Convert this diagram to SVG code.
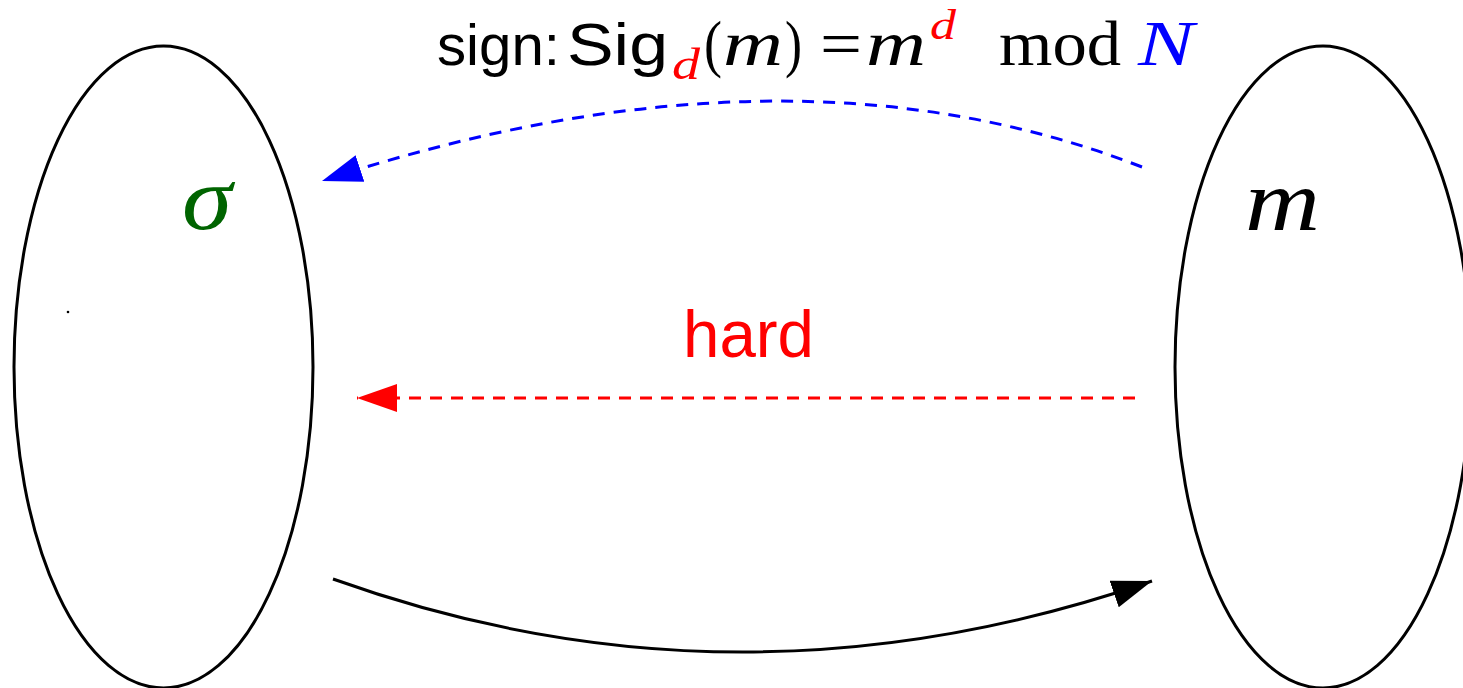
<svg xmlns="http://www.w3.org/2000/svg" width="1463" height="688" viewBox="0 0 1463 688">
<style>
.node{fill:none;stroke:#000;stroke-width:3}
.sans{font-family:"Liberation Sans",Arial,sans-serif}
.ser{font-family:"Liberation Serif","Times New Roman",serif}
.it{font-style:italic}
.conn{fill:none;stroke-width:3}
</style>
<defs>
<marker id="ab" markerUnits="userSpaceOnUse" markerWidth="42" markerHeight="30" refX="40" refY="14" orient="auto"><path d="M0,0 L40,14 L0,28 Z" fill="#0000ff"/></marker>
<marker id="ar" markerUnits="userSpaceOnUse" markerWidth="42" markerHeight="30" refX="40" refY="14" orient="auto"><path d="M0,0 L40,14 L0,28 Z" fill="#ff0000"/></marker>
<marker id="ak" markerUnits="userSpaceOnUse" markerWidth="42" markerHeight="30" refX="40" refY="14" orient="auto"><path d="M0,0 L40,14 L0,28 Z" fill="#000"/></marker>
</defs>
<rect width="1463" height="688" fill="#fff"/>
<g id="sigma-set">
<ellipse class="node" cx="163.5" cy="367" rx="149.5" ry="321"/>
<text class="ser it" x="182" y="229" font-size="92" fill="#006400" textLength="50" lengthAdjust="spacingAndGlyphs">σ</text>
<circle cx="68" cy="312" r="1.3" fill="#000"/>
</g>
<g id="m-set">
<ellipse class="node" cx="1323" cy="367" rx="148" ry="321"/>
<text class="ser it" x="1245" y="230" font-size="86" fill="#000" textLength="75" lengthAdjust="spacingAndGlyphs">m</text>
</g>
<g id="connectors">
<path class="conn" stroke="#0000ff" stroke-dasharray="12 9" d="M1142,167 Q785,28.5 322,181" marker-end="url(#ab)"/>
<path class="conn" stroke="#ff0000" stroke-dasharray="12 9" d="M1135,398 L357,398" marker-end="url(#ar)"/>
<path class="conn" stroke="#000" d="M333,579 Q737.5,724 1152,581" marker-end="url(#ak)"/>
</g>
<g id="labels">
<text class="sans" x="683" y="357" font-size="66" fill="#ff0000" textLength="131" lengthAdjust="spacingAndGlyphs">hard</text>
<text class="sans" x="437" y="65" font-size="58" fill="#000" textLength="123" lengthAdjust="spacingAndGlyphs">sign:</text>
<text class="sans" x="567" y="65" font-size="60" fill="#000" textLength="101" lengthAdjust="spacingAndGlyphs">Sig</text>
<text class="ser it" x="672" y="79" font-size="44" fill="#ff0000" textLength="28" lengthAdjust="spacingAndGlyphs">d</text>
<text class="ser" x="704" y="65" font-size="64" fill="#000" textLength="18" lengthAdjust="spacingAndGlyphs">(</text>
<text class="ser it" x="723" y="65" font-size="64" fill="#000" textLength="60" lengthAdjust="spacingAndGlyphs">m</text>
<text class="ser" x="785" y="65" font-size="64" fill="#000" textLength="17" lengthAdjust="spacingAndGlyphs">)</text>
<text class="ser" x="820" y="65" font-size="64" fill="#000" textLength="42" lengthAdjust="spacingAndGlyphs">=</text>
<text class="ser it" x="866" y="65" font-size="64" fill="#000" textLength="60" lengthAdjust="spacingAndGlyphs">m</text>
<text class="ser it" x="930" y="39" font-size="42" fill="#ff0000" textLength="26" lengthAdjust="spacingAndGlyphs">d</text>
<text class="ser" x="999" y="65" font-size="64" fill="#000" textLength="122" lengthAdjust="spacingAndGlyphs">mod</text>
<text class="ser it" x="1138" y="65" font-size="64" fill="#0000ff" textLength="56" lengthAdjust="spacingAndGlyphs">N</text>
</g>
</svg>
